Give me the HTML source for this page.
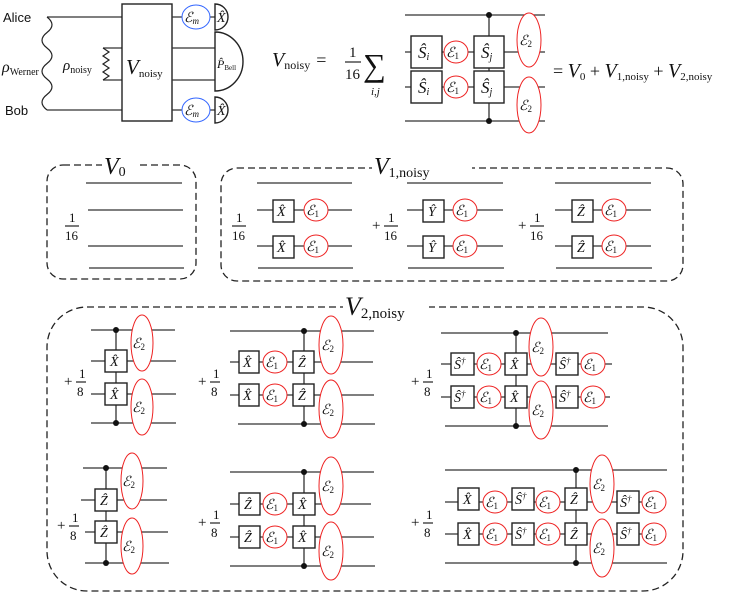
<!DOCTYPE html>
<html><head><meta charset="utf-8"><style>
html,body{margin:0;padding:0;background:#fff;}
svg{display:block;}
.m{font-family:"Liberation Serif",serif;fill:#111;}
.i{font-style:italic;}
.s{font-family:"Liberation Sans",sans-serif;fill:#111;}
</style></head><body>
<svg width="747" height="593" viewBox="0 0 747 593" xmlns="http://www.w3.org/2000/svg">
<defs>
<style>
line,.w{stroke:#333;stroke-width:1.3;}
.g{fill:#fff;stroke:#222;stroke-width:1.4;}
.c1{fill:#fff;stroke:#e22;stroke-width:1;}
.cb{fill:#fff;stroke:#36f;stroke-width:1;}
.d{fill:none;stroke:#222;stroke-width:1.3;stroke-dasharray:7,4;}
</style>
</defs>

<!-- top left -->
<text x="3" y="22" class="s" font-size="13">Alice</text>
<text x="5" y="115" class="s" font-size="13">Bob</text>
<line x1="47" y1="17" x2="122" y2="17"/>
<line x1="47" y1="110" x2="122" y2="110"/>
<path d="M47,17 q10,7.75 0,15.5 t0,15.5 t0,15.5 t0,15.5 t0,15.5 t0,15.5" fill="none" stroke="#222" stroke-width="1.2"/>
<text x="2" y="72" class="m i" font-size="16">ρ<tspan font-style="normal" font-size="10" dy="3">Werner</tspan></text>
<text x="63" y="70" class="m i" font-size="15">ρ<tspan font-style="normal" font-size="10" dy="3">noisy</tspan></text>
<line x1="103" y1="48" x2="122" y2="48"/>
<line x1="103" y1="80" x2="122" y2="80"/>
<path d="M103,48 l6,4 l-6,4 l6,4 l-6,4 l6,4 l-6,4 l6,4 l-6,4" fill="none" stroke="#222" stroke-width="1.2"/>
<rect x="122" y="4" width="50" height="117" class="g"/>
<text x="126" y="74" class="m i" font-size="21">V<tspan font-style="normal" font-size="11" dy="3">noisy</tspan></text>
<line x1="172" y1="17" x2="215" y2="17"/>
<line x1="172" y1="48" x2="215" y2="48"/>
<line x1="172" y1="80" x2="215" y2="80"/>
<line x1="172" y1="110" x2="215" y2="110"/>
<ellipse cx="196" cy="17" rx="14" ry="12" class="cb"/>
<text x="184" y="22" class="m i" font-size="14">ℰ<tspan font-size="9" dy="2">m</tspan></text>
<ellipse cx="196" cy="110" rx="14" ry="12" class="cb"/>
<text x="184" y="115" class="m i" font-size="14">ℰ<tspan font-size="9" dy="2">m</tspan></text>
<path d="M215,4 a13,13 0 0 1 0,26 z" class="g"/>
<text x="217" y="22" class="m i" font-size="14">X̂</text>
<path d="M215,32 a28,29.5 0 0 1 0,59 z" class="g"/>
<text x="217" y="68" class="m i" font-size="12">P̂<tspan font-style="normal" font-size="7" dy="2">Bell</tspan></text>
<path d="M215,97 a13,13 0 0 1 0,26 z" class="g"/>
<text x="217" y="115" class="m i" font-size="14">X̂</text>

<!-- formula -->
<text x="272" y="66" class="m i" font-size="20">V<tspan font-style="normal" font-size="12" dy="3">noisy</tspan><tspan font-style="normal" font-size="18" dy="-3" dx="6">=</tspan></text>
<text x="349" y="57" class="m" font-size="15">1</text>
<line x1="345" y1="62" x2="361" y2="62" stroke-width="1"/>
<text x="345" y="79" class="m" font-size="15">16</text>
<text x="363" y="76" class="m" font-size="32">∑</text>
<text x="371" y="95" class="m i" font-size="11">i,j</text>

<line x1="405" y1="15" x2="545" y2="15"/>
<line x1="405" y1="52" x2="545" y2="52"/>
<line x1="405" y1="87" x2="545" y2="87"/>
<line x1="405" y1="121" x2="545" y2="121"/>
<line x1="489" y1="15" x2="489" y2="121"/>
<circle cx="489" cy="15" r="3" fill="#111"/>
<circle cx="489" cy="121" r="3" fill="#111"/>
<rect x="411" y="36" width="31" height="32" class="g"/><text x="418" y="58" class="m i" font-size="17">Ŝ<tspan font-size="10" dy="2">i</tspan></text>
<rect x="411" y="71" width="31" height="32" class="g"/><text x="418" y="93" class="m i" font-size="17">Ŝ<tspan font-size="10" dy="2">i</tspan></text>
<rect x="474" y="36" width="30" height="32" class="g"/><text x="481" y="58" class="m i" font-size="17">Ŝ<tspan font-size="10" dy="2">j</tspan></text>
<rect x="474" y="71" width="30" height="32" class="g"/><text x="481" y="93" class="m i" font-size="17">Ŝ<tspan font-size="10" dy="2">j</tspan></text>
<ellipse cx="456" cy="52" rx="12" ry="11" class="c1"/><text x="446" y="57" class="m i" font-size="14">ℰ<tspan font-style="normal" font-size="9" dy="2">1</tspan></text>
<ellipse cx="456" cy="87" rx="12" ry="11" class="c1"/><text x="446" y="92" class="m i" font-size="14">ℰ<tspan font-style="normal" font-size="9" dy="2">1</tspan></text>
<ellipse cx="529" cy="40" rx="12" ry="27" class="c1"/><text x="519" y="45" class="m i" font-size="14">ℰ<tspan font-style="normal" font-size="9" dy="2">2</tspan></text>
<ellipse cx="529" cy="105" rx="12" ry="28" class="c1"/><text x="519" y="110" class="m i" font-size="14">ℰ<tspan font-style="normal" font-size="9" dy="2">2</tspan></text>

<text x="553" y="77" class="m" font-size="18">= <tspan font-style="italic" font-size="20">V</tspan><tspan font-size="11" dy="3">0</tspan><tspan dy="-3"> + </tspan><tspan font-style="italic" font-size="20">V</tspan><tspan font-size="11" dy="3">1,noisy</tspan><tspan dy="-3"> + </tspan><tspan font-style="italic" font-size="20">V</tspan><tspan font-size="11" dy="3">2,noisy</tspan></text>

<!-- V0 -->
<rect x="47" y="165" width="149" height="114" rx="16" class="d"/>
<rect x="102" y="150" width="34" height="24" fill="#fff"/>
<text x="104" y="174" class="m i" font-size="24">V<tspan font-style="normal" font-size="14" dy="2">0</tspan></text>
<line x1="86" y1="183" x2="182" y2="183"/>
<line x1="88" y1="210" x2="183" y2="210"/>
<line x1="88" y1="246" x2="183" y2="246"/>
<line x1="89" y1="268" x2="184" y2="268"/>
<text x="69" y="222" class="m" font-size="13">1</text>
<line x1="65" y1="226" x2="79" y2="226" stroke-width="1"/>
<text x="65" y="240" class="m" font-size="13">16</text>

<!-- V1 -->
<rect x="221" y="168" width="462" height="113" rx="16" class="d"/>
<rect x="372" y="152" width="100" height="24" fill="#fff"/>
<text x="374" y="174" class="m i" font-size="24">V<tspan font-style="normal" font-size="14" dy="3">1,noisy</tspan></text>
<!-- c1 -->
<text x="236" y="222" class="m" font-size="13">1</text><line x1="232" y1="226" x2="246" y2="226" stroke-width="1"/><text x="232" y="240" class="m" font-size="13">16</text>
<line x1="257" y1="183" x2="352" y2="183"/><line x1="257" y1="210" x2="352" y2="210"/><line x1="257" y1="246" x2="352" y2="246"/><line x1="258" y1="268" x2="353" y2="268"/>
<rect x="273" y="200" width="21" height="22" class="g"/><text x="277" y="216" class="m i" font-size="14">X̂</text>
<rect x="273" y="236" width="21" height="22" class="g"/><text x="277" y="252" class="m i" font-size="14">X̂</text>
<ellipse cx="316" cy="210" rx="12" ry="11" class="c1"/><text x="306" y="215" class="m i" font-size="14">ℰ<tspan font-style="normal" font-size="9" dy="2">1</tspan></text>
<ellipse cx="316" cy="246" rx="12" ry="11" class="c1"/><text x="306" y="251" class="m i" font-size="14">ℰ<tspan font-style="normal" font-size="9" dy="2">1</tspan></text>
<!-- c2 -->
<text x="372" y="230" class="m" font-size="15">+</text><text x="388" y="222" class="m" font-size="13">1</text><line x1="384" y1="226" x2="398" y2="226" stroke-width="1"/><text x="384" y="240" class="m" font-size="13">16</text>
<line x1="407" y1="183" x2="503" y2="183"/><line x1="407" y1="210" x2="503" y2="210"/><line x1="407" y1="246" x2="503" y2="246"/><line x1="408" y1="268" x2="504" y2="268"/>
<rect x="423" y="200" width="21" height="22" class="g"/><text x="428" y="216" class="m i" font-size="14">Ŷ</text>
<rect x="423" y="236" width="21" height="22" class="g"/><text x="428" y="252" class="m i" font-size="14">Ŷ</text>
<ellipse cx="465" cy="210" rx="12" ry="11" class="c1"/><text x="455" y="215" class="m i" font-size="14">ℰ<tspan font-style="normal" font-size="9" dy="2">1</tspan></text>
<ellipse cx="465" cy="246" rx="12" ry="11" class="c1"/><text x="455" y="251" class="m i" font-size="14">ℰ<tspan font-style="normal" font-size="9" dy="2">1</tspan></text>
<!-- c3 -->
<text x="518" y="230" class="m" font-size="15">+</text><text x="534" y="222" class="m" font-size="13">1</text><line x1="530" y1="226" x2="544" y2="226" stroke-width="1"/><text x="530" y="240" class="m" font-size="13">16</text>
<line x1="555" y1="183" x2="651" y2="183"/><line x1="555" y1="210" x2="651" y2="210"/><line x1="555" y1="246" x2="651" y2="246"/><line x1="556" y1="268" x2="652" y2="268"/>
<rect x="572" y="200" width="21" height="22" class="g"/><text x="577" y="216" class="m i" font-size="14">Ẑ</text>
<rect x="572" y="236" width="21" height="22" class="g"/><text x="577" y="252" class="m i" font-size="14">Ẑ</text>
<ellipse cx="614" cy="210" rx="12" ry="11" class="c1"/><text x="604" y="215" class="m i" font-size="14">ℰ<tspan font-style="normal" font-size="9" dy="2">1</tspan></text>
<ellipse cx="614" cy="246" rx="12" ry="11" class="c1"/><text x="604" y="251" class="m i" font-size="14">ℰ<tspan font-style="normal" font-size="9" dy="2">1</tspan></text>

<!-- V2 -->
<rect x="47" y="307" width="636" height="284" rx="40" class="d"/>
<rect x="343" y="290" width="86" height="26" fill="#fff"/>
<text x="345" y="315" class="m i" font-size="26">V<tspan font-style="normal" font-size="15" dy="3">2,noisy</tspan></text>

<!-- A -->
<text x="64" y="386" class="m" font-size="15">+</text><text x="79" y="378" class="m" font-size="13">1</text><line x1="76" y1="382" x2="86" y2="382" stroke-width="1"/><text x="77" y="396" class="m" font-size="13">8</text>
<line x1="91" y1="330" x2="175" y2="330"/><line x1="91" y1="361" x2="176" y2="361"/><line x1="91" y1="394" x2="176" y2="394"/><line x1="91" y1="423" x2="176" y2="423"/>
<line x1="116" y1="330" x2="116" y2="423"/><circle cx="116" cy="330" r="3" fill="#111"/><circle cx="116" cy="423" r="3" fill="#111"/>
<rect x="105" y="350" width="22" height="22" class="g"/><text x="110" y="366" class="m i" font-size="14">X̂</text>
<rect x="105" y="383" width="22" height="22" class="g"/><text x="110" y="399" class="m i" font-size="14">X̂</text>
<ellipse cx="142" cy="343" rx="11" ry="28" class="c1"/><text x="132" y="348" class="m i" font-size="14">ℰ<tspan font-style="normal" font-size="9" dy="2">2</tspan></text>
<ellipse cx="142" cy="407" rx="11" ry="28" class="c1"/><text x="132" y="412" class="m i" font-size="14">ℰ<tspan font-style="normal" font-size="9" dy="2">2</tspan></text>
<!-- B -->
<text x="198" y="386" class="m" font-size="15">+</text><text x="213" y="378" class="m" font-size="13">1</text><line x1="210" y1="382" x2="220" y2="382" stroke-width="1"/><text x="211" y="396" class="m" font-size="13">8</text>
<line x1="230" y1="331" x2="374" y2="331"/><line x1="230" y1="362" x2="373" y2="362"/><line x1="230" y1="395" x2="374" y2="395"/><line x1="238" y1="424" x2="375" y2="424"/>
<line x1="304" y1="331" x2="304" y2="424"/><circle cx="304" cy="331" r="3" fill="#111"/><circle cx="304" cy="424" r="3" fill="#111"/>
<rect x="239" y="351" width="20" height="22" class="g"/><text x="243" y="367" class="m i" font-size="14">X̂</text>
<rect x="239" y="384" width="20" height="22" class="g"/><text x="243" y="400" class="m i" font-size="14">X̂</text>
<rect x="293" y="351" width="21" height="22" class="g"/><text x="298" y="367" class="m i" font-size="14">Ẑ</text>
<rect x="293" y="384" width="21" height="22" class="g"/><text x="298" y="400" class="m i" font-size="14">Ẑ</text>
<ellipse cx="275" cy="362" rx="12" ry="11" class="c1"/><text x="265" y="367" class="m i" font-size="14">ℰ<tspan font-style="normal" font-size="9" dy="2">1</tspan></text>
<ellipse cx="275" cy="395" rx="12" ry="11" class="c1"/><text x="265" y="400" class="m i" font-size="14">ℰ<tspan font-style="normal" font-size="9" dy="2">1</tspan></text>
<ellipse cx="331" cy="345" rx="12" ry="29" class="c1"/><text x="321" y="350" class="m i" font-size="14">ℰ<tspan font-style="normal" font-size="9" dy="2">2</tspan></text>
<ellipse cx="331" cy="409" rx="12" ry="29" class="c1"/><text x="321" y="414" class="m i" font-size="14">ℰ<tspan font-style="normal" font-size="9" dy="2">2</tspan></text>
<!-- C -->
<text x="411" y="386" class="m" font-size="15">+</text><text x="426" y="378" class="m" font-size="13">1</text><line x1="423" y1="382" x2="433" y2="382" stroke-width="1"/><text x="424" y="396" class="m" font-size="13">8</text>
<line x1="441" y1="333" x2="608" y2="333"/><line x1="441" y1="364" x2="612" y2="364"/><line x1="441" y1="397" x2="610" y2="397"/><line x1="445" y1="426" x2="608" y2="426"/>
<line x1="516" y1="333" x2="516" y2="426"/><circle cx="516" cy="333" r="3" fill="#111"/><circle cx="516" cy="426" r="3" fill="#111"/>
<rect x="451" y="353" width="23" height="22" class="g"/><text x="454" y="369" class="m i" font-size="14">Ŝ<tspan font-size="9" dy="-5">†</tspan></text>
<rect x="451" y="386" width="23" height="22" class="g"/><text x="454" y="402" class="m i" font-size="14">Ŝ<tspan font-size="9" dy="-5">†</tspan></text>
<ellipse cx="489" cy="364" rx="12" ry="11" class="c1"/><text x="479" y="369" class="m i" font-size="14">ℰ<tspan font-style="normal" font-size="9" dy="2">1</tspan></text>
<ellipse cx="489" cy="397" rx="12" ry="11" class="c1"/><text x="479" y="402" class="m i" font-size="14">ℰ<tspan font-style="normal" font-size="9" dy="2">1</tspan></text>
<rect x="505" y="353" width="22" height="22" class="g"/><text x="510" y="369" class="m i" font-size="14">X̂</text>
<rect x="505" y="386" width="22" height="22" class="g"/><text x="510" y="402" class="m i" font-size="14">X̂</text>
<ellipse cx="541" cy="347" rx="12" ry="29" class="c1"/><text x="531" y="352" class="m i" font-size="14">ℰ<tspan font-style="normal" font-size="9" dy="2">2</tspan></text>
<ellipse cx="541" cy="410" rx="12" ry="29" class="c1"/><text x="531" y="415" class="m i" font-size="14">ℰ<tspan font-style="normal" font-size="9" dy="2">2</tspan></text>
<rect x="556" y="353" width="22" height="22" class="g"/><text x="559" y="369" class="m i" font-size="14">Ŝ<tspan font-size="9" dy="-5">†</tspan></text>
<rect x="556" y="386" width="22" height="22" class="g"/><text x="559" y="402" class="m i" font-size="14">Ŝ<tspan font-size="9" dy="-5">†</tspan></text>
<ellipse cx="593" cy="364" rx="12" ry="11" class="c1"/><text x="583" y="369" class="m i" font-size="14">ℰ<tspan font-style="normal" font-size="9" dy="2">1</tspan></text>
<ellipse cx="593" cy="397" rx="12" ry="11" class="c1"/><text x="583" y="402" class="m i" font-size="14">ℰ<tspan font-style="normal" font-size="9" dy="2">1</tspan></text>

<!-- D -->
<text x="57" y="530" class="m" font-size="15">+</text><text x="72" y="522" class="m" font-size="13">1</text><line x1="69" y1="526" x2="79" y2="526" stroke-width="1"/><text x="70" y="540" class="m" font-size="13">8</text>
<line x1="83" y1="468" x2="167" y2="468"/><line x1="81" y1="500" x2="167" y2="500"/><line x1="85" y1="532" x2="168" y2="532"/><line x1="85" y1="563" x2="169" y2="563"/>
<line x1="106" y1="468" x2="106" y2="563"/><circle cx="106" cy="468" r="3" fill="#111"/><circle cx="106" cy="563" r="3" fill="#111"/>
<rect x="95" y="489" width="22" height="22" class="g"/><text x="100" y="505" class="m i" font-size="14">Ẑ</text>
<rect x="95" y="521" width="22" height="22" class="g"/><text x="100" y="537" class="m i" font-size="14">Ẑ</text>
<ellipse cx="132" cy="481" rx="11" ry="28" class="c1"/><text x="122" y="486" class="m i" font-size="14">ℰ<tspan font-style="normal" font-size="9" dy="2">2</tspan></text>
<ellipse cx="132" cy="546" rx="11" ry="28" class="c1"/><text x="122" y="551" class="m i" font-size="14">ℰ<tspan font-style="normal" font-size="9" dy="2">2</tspan></text>
<!-- E -->
<text x="198" y="527" class="m" font-size="15">+</text><text x="213" y="519" class="m" font-size="13">1</text><line x1="210" y1="523" x2="220" y2="523" stroke-width="1"/><text x="211" y="537" class="m" font-size="13">8</text>
<line x1="230" y1="472" x2="374" y2="472"/><line x1="230" y1="504" x2="371" y2="504"/><line x1="230" y1="537" x2="374" y2="537"/><line x1="230" y1="566" x2="375" y2="566"/>
<line x1="304" y1="472" x2="304" y2="566"/><circle cx="304" cy="472" r="3" fill="#111"/><circle cx="304" cy="566" r="3" fill="#111"/>
<rect x="239" y="493" width="21" height="22" class="g"/><text x="244" y="509" class="m i" font-size="14">Ẑ</text>
<rect x="239" y="526" width="21" height="22" class="g"/><text x="244" y="542" class="m i" font-size="14">Ẑ</text>
<ellipse cx="275" cy="504" rx="12" ry="11" class="c1"/><text x="265" y="509" class="m i" font-size="14">ℰ<tspan font-style="normal" font-size="9" dy="2">1</tspan></text>
<ellipse cx="275" cy="537" rx="12" ry="11" class="c1"/><text x="265" y="542" class="m i" font-size="14">ℰ<tspan font-style="normal" font-size="9" dy="2">1</tspan></text>
<rect x="293" y="493" width="22" height="22" class="g"/><text x="298" y="509" class="m i" font-size="14">X̂</text>
<rect x="293" y="526" width="22" height="22" class="g"/><text x="298" y="542" class="m i" font-size="14">X̂</text>
<ellipse cx="331" cy="486" rx="12" ry="29" class="c1"/><text x="321" y="491" class="m i" font-size="14">ℰ<tspan font-style="normal" font-size="9" dy="2">2</tspan></text>
<ellipse cx="331" cy="551" rx="12" ry="29" class="c1"/><text x="321" y="556" class="m i" font-size="14">ℰ<tspan font-style="normal" font-size="9" dy="2">2</tspan></text>
<!-- F -->
<text x="411" y="527" class="m" font-size="15">+</text><text x="426" y="519" class="m" font-size="13">1</text><line x1="423" y1="523" x2="433" y2="523" stroke-width="1"/><text x="424" y="537" class="m" font-size="13">8</text>
<line x1="445" y1="470" x2="667" y2="470"/><line x1="445" y1="502" x2="666" y2="502"/><line x1="445" y1="534" x2="666" y2="534"/><line x1="445" y1="563" x2="667" y2="563"/>
<line x1="576" y1="470" x2="576" y2="563"/><circle cx="576" cy="470" r="3" fill="#111"/><circle cx="576" cy="563" r="3" fill="#111"/>
<rect x="458" y="488" width="21" height="22" class="g"/><text x="463" y="504" class="m i" font-size="14">X̂</text>
<rect x="458" y="523" width="21" height="22" class="g"/><text x="463" y="539" class="m i" font-size="14">X̂</text>
<ellipse cx="495" cy="502" rx="12" ry="11" class="c1"/><text x="485" y="507" class="m i" font-size="14">ℰ<tspan font-style="normal" font-size="9" dy="2">1</tspan></text>
<ellipse cx="495" cy="534" rx="12" ry="11" class="c1"/><text x="485" y="539" class="m i" font-size="14">ℰ<tspan font-style="normal" font-size="9" dy="2">1</tspan></text>
<rect x="512" y="488" width="22" height="22" class="g"/><text x="515" y="504" class="m i" font-size="14">Ŝ<tspan font-size="9" dy="-5">†</tspan></text>
<rect x="512" y="523" width="22" height="22" class="g"/><text x="515" y="539" class="m i" font-size="14">Ŝ<tspan font-size="9" dy="-5">†</tspan></text>
<ellipse cx="548" cy="502" rx="12" ry="11" class="c1"/><text x="538" y="507" class="m i" font-size="14">ℰ<tspan font-style="normal" font-size="9" dy="2">1</tspan></text>
<ellipse cx="548" cy="534" rx="12" ry="11" class="c1"/><text x="538" y="539" class="m i" font-size="14">ℰ<tspan font-style="normal" font-size="9" dy="2">1</tspan></text>
<rect x="565" y="488" width="22" height="22" class="g"/><text x="570" y="504" class="m i" font-size="14">Ẑ</text>
<rect x="565" y="523" width="22" height="22" class="g"/><text x="570" y="539" class="m i" font-size="14">Ẑ</text>
<ellipse cx="602" cy="484" rx="12" ry="29" class="c1"/><text x="592" y="489" class="m i" font-size="14">ℰ<tspan font-style="normal" font-size="9" dy="2">2</tspan></text>
<ellipse cx="602" cy="548" rx="12" ry="29" class="c1"/><text x="592" y="553" class="m i" font-size="14">ℰ<tspan font-style="normal" font-size="9" dy="2">2</tspan></text>
<rect x="617" y="491" width="22" height="22" class="g"/><text x="620" y="507" class="m i" font-size="14">Ŝ<tspan font-size="9" dy="-5">†</tspan></text>
<rect x="617" y="523" width="22" height="22" class="g"/><text x="620" y="539" class="m i" font-size="14">Ŝ<tspan font-size="9" dy="-5">†</tspan></text>
<ellipse cx="654" cy="502" rx="12" ry="11" class="c1"/><text x="644" y="507" class="m i" font-size="14">ℰ<tspan font-style="normal" font-size="9" dy="2">1</tspan></text>
<ellipse cx="654" cy="534" rx="12" ry="11" class="c1"/><text x="644" y="539" class="m i" font-size="14">ℰ<tspan font-style="normal" font-size="9" dy="2">1</tspan></text>
</svg>
</body></html>
